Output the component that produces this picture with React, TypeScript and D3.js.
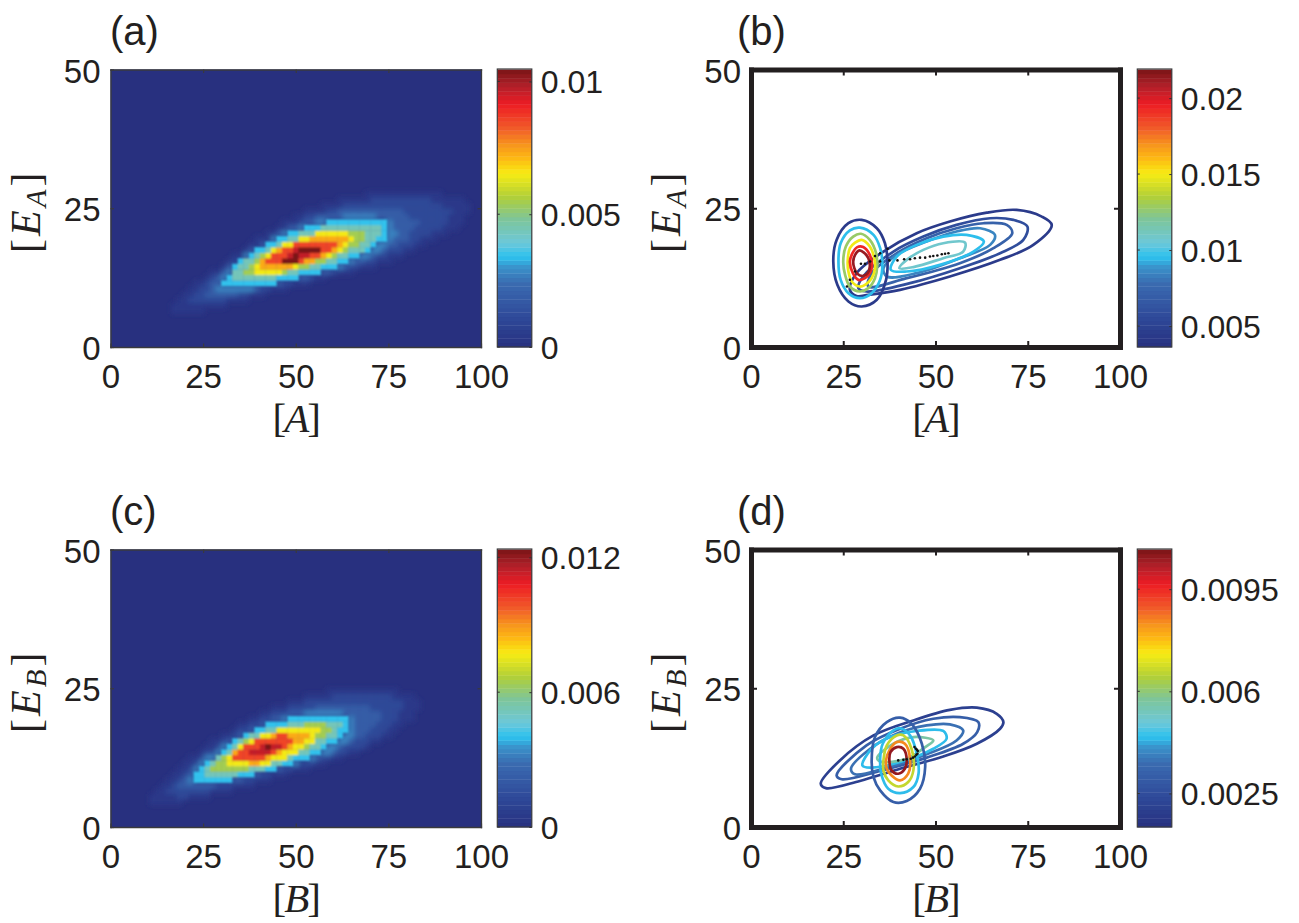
import React, { useEffect, useRef } from 'react';
import * as d3 from 'd3';

type Pt = [number, number];

const axisTicksX = [0, 25, 50, 75, 100];
const axisTicksY = [0, 25, 50];

// colour ramp, bottom to top
const rampStops = [0, 0.11, 0.23, 0.29, 0.325, 0.375, 0.46, 0.54, 0.625, 0.68, 0.73, 0.79, 0.875, 0.94, 1];
const rampColors = ['#28307f', '#2f4a9a', '#3a6bb0', '#3a95cc', '#2cc2ef', '#6cc8da', '#7dc59b', '#b0cf3a',
    '#f7ec13', '#fdb913', '#f7941d', '#f15a29', '#ed1c24', '#b2202a', '#7a1416'];
const ramp = d3.scaleLinear<string>().domain(rampStops).range(rampColors).clamp(true);

// share of the colour range enclosed by each outline of the density maps
const heatLevels = [0.04, 0.1, 0.18, 0.27, 0.33, 0.42, 0.52, 0.62, 0.7, 0.82, 0.92, 1];
// the first outlines are the soft fringe round the cyan body
const FRINGE = 4;

const heatA: Pt[][] = [
    [[16.4,7.5],[17.3,6],[24.1,6.3],[34.9,8.1],[47.5,10.5],[60.1,12.7],[73.6,14.8],[85.3,18.4],[94.3,21.7],[97.9,25.3],[95.2,26.8],[83.5,28.3],[73.6,28.3],[61.9,26.5],[51.1,24.1],[40.3,19.9],[30.4,15.1],[21.4,10.8]],
    [[20,8.4],[26.8,7.8],[39.4,9.9],[54.7,12.3],[69.1,14.8],[80.8,18.1],[89.8,21.7],[92.5,24.7],[86.2,26.5],[75.4,27.1],[63.7,25.6],[52.9,23.5],[42.1,19.3],[31.3,14.5],[24.1,10.8]],
    [[24.1,8.7],[33.1,9.3],[43.9,11.1],[58.3,13.3],[70.9,16],[79.9,19.3],[83.5,22.3],[78.1,25],[69.1,25.3],[58.3,24.1],[47.5,21.4],[37.6,17.5],[28.6,12.7]],
    [[28.6,10.2],[37.6,10.2],[47.5,12],[60.1,13.9],[71.8,16.9],[77.2,20.5],[76.3,22.9],[68.2,23.8],[58.3,23.2],[47.5,20.8],[38.5,17.5],[31.3,13.9]],
    [[30.4,12],[30.5,10.7],[37.6,10.7],[45.7,11.7],[55.6,13.3],[61.9,14.8],[69.1,16.9],[74.5,19.6],[75.4,22],[73.6,22.9],[67.3,23],[58.3,22.6],[50.2,21.1],[42.1,18.7],[34.9,15.7]],
    [[32.6,12],[34.9,11.7],[43.9,12.3],[54.7,14.2],[61.9,15.7],[68.2,17.5],[72.3,19.9],[73.2,22],[68.2,22.3],[58.3,21.8],[51.1,20.5],[43,18.1],[36.7,15.7],[33.1,13.3]],
    [[35.8,12.7],[42.1,12.8],[51.1,13.9],[60.1,16],[66.4,18.1],[69.5,20.2],[68.2,21.2],[60.1,21.4],[52.9,20.2],[44.8,18.1],[38.5,15.7]],
    [[38,13.3],[44.8,13.1],[52.9,14.8],[60.1,16.6],[64.6,18.4],[65.5,20.2],[62.8,20.8],[55.6,20.5],[47.5,18.7],[41.2,16.6]],
    [[39.8,13.9],[48.4,14.2],[55.6,15.7],[61.9,17.8],[64.1,19.6],[60.1,20],[53.8,19.6],[45.7,17.8],[41.2,15.7]],
    [[41.6,14.5],[50.2,14.8],[56.5,16.4],[61,18.4],[61.4,19.3],[54.7,19.3],[47.5,18.1],[43,16.3]],
    [[45.7,15.7],[52.9,16],[57.4,17.5],[56.9,17.8],[50.2,17.8],[46.6,16.3]],
    [[46.1,15.5],[50.2,15.4],[51.5,16.6],[56.9,16.9],[56.5,17.5],[50.6,17.6],[48.8,16.3]],
];

const heatC: Pt[][] = [
    [[10.1,4.8],[10.5,3.6],[17.7,4.2],[28.6,5.7],[40.3,7.8],[54.7,10.8],[67.3,13.3],[76.3,16.6],[82.6,20.2],[83.5,22.9],[76.3,25],[65.5,25.3],[54.7,24.1],[43.9,21.7],[34.9,18.7],[25.9,14.8],[16.8,10.2]],
    [[13.7,6],[19.5,5.4],[30.4,6.9],[42.1,9.3],[56.5,11.7],[68.2,14.5],[76.3,18.1],[79.9,22.3],[74.5,24.1],[64.6,24.1],[53.8,22.9],[43,20.5],[33.1,16.9],[24.1,12.7]],
    [[16.4,6.9],[25,6.9],[34.9,8.4],[47.5,10.8],[60.1,13.3],[69.1,16.6],[73.6,19.9],[69.1,22.3],[60.1,22],[50.2,21.1],[39.4,18.4],[29.5,14.5],[21.4,10.2]],
    [[19.5,7.8],[26.8,7.5],[36.7,9],[48.4,11.1],[60.1,13.6],[65,16.3],[66.4,19.3],[61.9,20.8],[52.9,20.5],[43,19],[33.1,15.7],[25,12]],
    [[22.5,9.3],[22.7,7.5],[29.5,8.1],[36.7,9],[45.7,10.8],[54.7,12.7],[61,15.4],[64.6,17.5],[64.6,19.6],[61.4,20],[52.9,19.9],[46.1,19.3],[39.4,17.8],[33.1,15.4],[26.8,12]],
    [[24.5,9.6],[27.7,8.7],[35.8,9.6],[44.8,11.1],[53.8,13.6],[60.1,16],[63,18.7],[59.2,19.3],[51.1,19],[42.1,17.8],[34.9,15.7],[28.6,12.3]],
    [[27.2,10.2],[33.1,9.9],[42.1,11.1],[52,13.9],[58.3,16.6],[60.1,18.4],[56.5,18.7],[50.2,18.4],[43,17.3],[35.8,15.4],[29.9,12.3]],
    [[30.4,10.8],[38.5,10.5],[46.6,12.3],[53.8,14.8],[56.9,17.5],[53.8,17.8],[45.7,17.6],[38.5,16],[32.2,13.3]],
    [[31.7,11.7],[39.4,11.4],[48.4,13.9],[53.3,16],[53.8,17.2],[47.5,17.2],[39.4,16],[33.5,13.6]],
    [[33.3,12.3],[40.3,12.3],[46.6,13.9],[50.2,16.3],[45.7,16.6],[39.4,15.7],[34.9,13.9]],
    [[36.7,13],[41.2,13],[45.7,14.5],[43.9,15.1],[39.4,14.3]],
    [[39.4,13.7],[42.1,13.6],[44.8,14.3],[43,14.6],[40.3,14.3]],
];

// contour levels and outlines of panel (b)
const levelsB = [0.0045, 0.0058, 0.0072, 0.0085, 0.0095, 0.0108, 0.0045, 0.0095, 0.0128, 0.0149, 0.0193, 0.0213];
const contoursB: Pt[][] = [
    [[31.8,9.4],[40.4,10.3],[53.9,12.7],[67.5,15.7],[76.5,18.4],[81.5,22],[78.8,23.5],[72,24.7],[63.9,24.2],[53.9,22.6],[44.9,20.5],[35.9,17.2],[28.6,13.3],[26.8,10.3],[28.6,9.2]],
    [[31.3,10],[43.1,11.5],[56.6,14.2],[67.5,16.9],[73.8,19.3],[74.9,21.7],[71.1,22.9],[64.8,23.2],[55.7,22],[46.7,19.9],[38.6,17.2],[30.4,12.7],[29.1,10.6]],
    [[31.8,10.9],[42.2,12.4],[56.6,15.1],[65.7,17.8],[70.8,20.5],[69.3,22],[63,22.3],[55.7,21.4],[47.6,19.6],[39.5,16.9],[32.7,13.3]],
    [[36.8,12.7],[44.9,13.3],[56.6,16],[64.8,18.4],[66.1,20.2],[62.1,21.4],[55.7,20.8],[47.6,19],[39.5,16.6],[35.9,14.2]],
    [[37.9,13.9],[42.2,13.6],[51.2,14.8],[60.3,17.2],[63.1,19],[58.4,20.2],[52.1,19.9],[44.9,18.4],[39.5,16.3]],
    [[40.2,14.2],[44,14.4],[52.1,16],[57.5,17.2],[58,18.8],[52.1,18.7],[46.7,17.5],[42.2,15.7]],
    [[22.3,15.4],[23.2,19.3],[26.4,22.3],[30,22.9],[34.1,21.4],[36.3,18.7],[37,15.4],[36.6,12.1],[34.1,8.5],[30,7.3],[26.4,8.2],[23.4,11.2]],
    [[23.7,15.4],[24.3,18.7],[26.8,21],[29.5,21.5],[33.2,20.2],[35,17.8],[35.6,14.8],[35,12.1],[32.7,9.7],[29.5,8.8],[26.4,9.7],[24.3,12.1]],
    [[25,15.4],[25.7,18.1],[27.7,19.9],[29.8,20.4],[32.2,19.3],[33.9,16.9],[34.2,14.5],[33.6,12.4],[31.8,10.6],[29.5,10],[26.8,10.9],[25.5,13]],
    [[26.2,15.4],[26.8,17.8],[28.2,18.8],[30,19.3],[32.2,18.1],[33.3,16.3],[33.6,14.2],[32.7,12.4],[30.9,11.2],[29.4,10.9],[27.3,11.8],[26.4,13.6]],
    [[26.8,15.4],[27.5,16.9],[28.8,18],[30.4,18],[32.2,16.6],[32.8,14.8],[32.2,13.3],[30.9,12.4],[29.1,12.1],[27.6,13.3]],
    [[27.7,15.4],[28.2,16.6],[29.4,17.4],[30.6,17],[31.8,16],[32.2,14.5],[31.6,13.3],[30.4,12.8],[28.8,13.2],[28,14.2]],
];
const pathB: Pt[] = [[26,10.9],[26.8,12.1],[28.2,13.6],[29.8,15],[30.9,15],[32.3,15.4],[33.6,16.4],[35,16.9],[37,17.7],[35,15.4],[37.5,15.6],[39.7,15.6],[41.5,15.8],[43.1,15.8],[44.4,16],[45.8,16.1],[47.2,16.1],[48.5,16.3],[49.4,16.4],[50.5,16.5],[51.7,16.7],[52.6,16.8],[53.5,16.9]];

// contour levels and outlines of panel (d)
const levelsD = [0.002, 0.0031, 0.0036, 0.0044, 0.0056, 0.0031, 0.0044, 0.0067, 0.0084, 0.0106];
const contoursD: Pt[][] = [
    [[18.9,7.8],[20.3,7],[29.5,8.3],[40.4,10.5],[52.1,12.7],[61.2,15],[67.5,17.7],[68.4,18.9],[66.6,20.4],[61.2,21.5],[53.9,21.1],[44,19.2],[33.2,16.5],[24.1,12]],
    [[23.2,9.3],[24.6,8.6],[35,10.1],[47.6,12.5],[57.5,15],[61.3,17.1],[61.6,18.9],[56.6,19.8],[49.4,19.5],[40.4,17.7],[31.3,14.7]],
    [[27.1,10.5],[28.2,9.5],[36.8,10.7],[47.6,13.1],[55.7,15.6],[57.5,17.4],[53.9,18.5],[47.6,18.3],[39.5,16.8],[32.3,14.1]],
    [[30.2,11.1],[32.3,10.7],[40.4,11.7],[49.4,14.1],[53,15.9],[52.1,17.3],[44.9,17.3],[37.7,16.2],[32.7,14.1]],
    [[34.2,12.5],[35,11.8],[42.2,12.3],[47.2,14.4],[49.4,15.6],[44,16.2],[38.6,15]],
    [[32.7,12],[33.6,16.2],[36.8,18.9],[40.4,19.7],[43.5,18.6],[46.3,15],[47.2,10.8],[45.8,6.9],[42.2,4.7],[38.6,4.5],[35,6.6],[33.2,9]],
    [[35,12.3],[35.7,15],[38.6,17.4],[40.4,17.8],[43.1,16.5],[44.9,13.2],[45.4,9.6],[44,7.2],[40.4,6.1],[37.2,6.9],[35.4,9.3]],
    [[35.9,12],[36.8,14.7],[39.5,16.5],[41.3,16.5],[43.5,14.1],[44,10.2],[42.6,8.1],[39.9,7.3],[37.2,8.4],[35.9,10.2]],
    [[36.6,12],[37.5,13.8],[39.5,15.3],[41.7,15],[43.1,12.3],[42.6,9.6],[40.4,8.4],[38.1,9.3],[36.8,10.5]],
    [[37.5,12],[37.8,13.5],[39.5,14.4],[41.3,14.1],[42.2,12],[41.7,10.5],[39.9,9.6],[38.1,10.2]],
];
const pathD: Pt[] = [[39.9,12],[41.3,12.1],[42.2,12.2],[43.3,12.3],[43.9,12.5],[44.4,12.7],[44.8,13],[45.1,13.2],[45.2,13.7],[45,13.9],[44.7,14.1],[44.3,14.4]];

// colour bar limits and tick labels
const barDomainA: Pt = [0, 0.01045];
const barTicksA = [0, 0.005, 0.01];
const barDomainB: Pt = [0.00362, 0.02188];
const barTicksB = [0.005, 0.01, 0.015, 0.02];
const barDomainC: Pt = [0, 0.01235];
const barTicksC = [0, 0.006, 0.012];
const barDomainD: Pt = [0.00135, 0.01086];
const barTicksD = [0.0025, 0.006, 0.0095];

const INK = '#231f20';
const NX = 67;
const NY = 50;
const BAR_STEPS = 64;

function drawPanel(root, p) {
    const g = root.append('g');
    const x = d3.scaleLinear().domain([0, 100]).range([p.left, p.right]);
    const y = d3.scaleLinear().domain([0, 50]).range([p.bottom, p.top]);

    if (p.heat) {
        const clipId = 'clip-' + p.name;
        g.append('clipPath').attr('id', clipId).append('rect')
            .attr('x', p.left).attr('y', p.top)
            .attr('width', p.right - p.left).attr('height', p.bottom - p.top);
        g.append('rect')
            .attr('x', p.left).attr('y', p.top)
            .attr('width', p.right - p.left).attr('height', p.bottom - p.top)
            .attr('fill', ramp(0));

        const cols = d3.scaleBand<number>().domain(d3.range(NX)).range([p.left, p.right]);
        const rows = d3.scaleBand<number>().domain(d3.range(NY)).range([p.bottom, p.top]);
        const cells: any[] = [];
        d3.range(NX).forEach((i) => d3.range(NY).forEach((j) => {
            const pos: Pt = [(i + 0.5) * 100 / NX, j + 0.5];
            for (let k = p.heat.length - 1; k >= 0; k--) {
                if (d3.polygonContains(p.heat[k], pos)) {
                    cells.push({ i, j, k, v: heatLevels[k] });
                    break;
                }
            }
        }));
        const clipped = g.append('g').attr('clip-path', `url(#${clipId})`);
        const drawCells = (filter, data) => clipped.append('g').attr('filter', filter)
            .selectAll('rect').data(data).enter().append('rect')
            .attr('x', (d) => cols(d.i))
            .attr('y', (d) => rows(d.j))
            .attr('width', cols.bandwidth() + 0.3)
            .attr('height', rows.bandwidth() + 0.3)
            .attr('fill', (d) => ramp(d.v));
        drawCells('url(#softer)', cells.filter((d) => d.k < FRINGE));
        drawCells('url(#soft)', cells.filter((d) => d.k >= FRINGE));
    }

    if (p.contours) {
        const t = d3.scaleLinear().domain(p.barDomain).range([0, 1]);
        const line = d3.line<Pt>().x((d) => x(d[0])).y((d) => y(d[1])).curve(d3.curveCatmullRomClosed);
        g.append('g').selectAll('path').data(p.contours).enter().append('path')
            .attr('d', (d: any) => line(d))
            .attr('fill', 'none')
            .attr('stroke', (_, i) => ramp(t(p.levels[i])))
            .attr('stroke-width', 2.7);
        g.append('g').selectAll('circle').data(p.path).enter().append('circle')
            .attr('cx', (d: any) => x(d[0]))
            .attr('cy', (d: any) => y(d[1]))
            .attr('r', 1.3)
            .attr('fill', '#111');
    }

    // axes on all four sides, ticks pointing inward
    const frameWidth = p.heat ? 1.3 : 5;
    const frameColor = p.heat ? '#3a3a3c' : INK;
    const tickLen = p.heat ? 3.5 : 6;
    const bottom = g.append('g').attr('transform', `translate(0,${p.bottom})`)
        .call(d3.axisBottom(x).tickValues(axisTicksX).tickSize(-tickLen).tickSizeOuter(0).tickFormat(d3.format('d')));
    const left = g.append('g').attr('transform', `translate(${p.left},0)`)
        .call(d3.axisLeft(y).tickValues(axisTicksY).tickSize(-tickLen).tickSizeOuter(0).tickFormat(d3.format('d')));
    const top = g.append('g').attr('transform', `translate(0,${p.top})`)
        .call(d3.axisTop(x).tickValues(axisTicksX.slice(1, -1)).tickSize(-tickLen).tickSizeOuter(0).tickFormat(() => ''));
    const right = g.append('g').attr('transform', `translate(${p.right},0)`)
        .call(d3.axisRight(y).tickValues([25]).tickSize(-tickLen).tickSizeOuter(0).tickFormat(() => ''));

    [bottom, left, top, right].forEach((a) => {
        a.attr('font-family', null).attr('font-size', null);
        a.select('.domain').attr('stroke', frameColor).attr('stroke-width', frameWidth)
            .attr('stroke-linecap', 'square');
        a.selectAll('.tick line').attr('stroke', frameColor).attr('stroke-width', p.heat ? 1.2 : 2);
    });
    bottom.selectAll('.tick text').attr('y', 41).attr('dy', 0).attr('fill', INK)
        .style('font', '33px "Liberation Sans"');
    left.selectAll('.tick text').attr('x', -10).attr('dy', 12.5).attr('fill', INK)
        .style('font', '33px "Liberation Sans"');
    top.selectAll('.tick text').remove();
    right.selectAll('.tick text').remove();

    // colour bar, 64 flat steps like the original colormap
    const barScale = d3.scaleLinear().domain(p.barDomain).range([p.bottom, p.top]);
    const steps = d3.scaleBand<number>().domain(d3.range(BAR_STEPS)).range([p.bottom, p.top]);
    g.append('g').selectAll('rect').data(d3.range(BAR_STEPS)).enter().append('rect')
        .attr('x', p.barX).attr('width', 34.5)
        .attr('y', (d) => steps(d))
        .attr('height', steps.bandwidth() + 0.4)
        .attr('fill', (d) => ramp((d + 0.5) / BAR_STEPS));
    g.append('rect').attr('x', p.barX).attr('y', p.top - 0.5).attr('width', 34.5).attr('height', p.bottom - p.top + 0.5)
        .attr('fill', 'none').attr('stroke', '#3a3a3c').attr('stroke-width', 1.2);
    const barAxis = g.append('g').attr('transform', `translate(${p.barX + 34.5},0)`)
        .call(d3.axisRight(barScale).tickValues(p.barTicks).tickSize(-2.5).tickSizeOuter(0).tickFormat((d) => String(d)));
    barAxis.attr('font-family', null).attr('font-size', null);
    barAxis.select('.domain').remove();
    barAxis.selectAll('.tick line').attr('stroke', '#333').attr('stroke-width', 1);
    barAxis.selectAll('.tick text').attr('x', 9).attr('dy', 11.5).attr('fill', INK)
        .style('font', '32px "Liberation Sans"');
    g.append('g').selectAll('line').data(p.barTicks).enter().append('line')
        .attr('x1', p.barX).attr('x2', p.barX + 2.5)
        .attr('y1', (d: any) => barScale(d)).attr('y2', (d: any) => barScale(d))
        .attr('stroke', '#333').attr('stroke-width', 1);

    // panel letter
    g.append('text').attr('x', p.left - (p.heat ? 0.5 : 14)).attr('y', p.top - 24.5)
        .attr('fill', INK).style('font', '40px "Liberation Sans"').text(`(${p.name})`);

    // axis names in math italic
    const serif = '"Liberation Serif"';
    const xLabel = g.append('text')
        .attr('x', (p.left + p.right) / 2).attr('y', p.bottom + 85)
        .attr('text-anchor', 'middle').attr('fill', INK)
        .style('font', `41px ${serif}`).style('letter-spacing', '-2px');
    xLabel.append('tspan').text('[');
    xLabel.append('tspan').attr('font-style', 'italic').text(p.species);
    xLabel.append('tspan').text(']');

    const yLabel = g.append('text')
        .attr('transform', `translate(${p.left - 71},${(p.top + p.bottom) / 2 + 3}) rotate(-90)`)
        .attr('text-anchor', 'middle').attr('fill', INK)
        .style('font', `42px ${serif}`).style('letter-spacing', '3px');
    yLabel.append('tspan').text('[');
    yLabel.append('tspan').attr('font-style', 'italic').text('E');
    yLabel.append('tspan').attr('font-style', 'italic').attr('dy', 6).attr('font-size', 29).text(p.species);
    yLabel.append('tspan').attr('dy', -6).text(']');
}

const panels = [
    { name: 'a', species: 'A', left: 110.5, right: 481, top: 69.5, bottom: 347, barX: 497.3, heat: heatA, barDomain: barDomainA, barTicks: barTicksA },
    { name: 'b', species: 'A', left: 751, right: 1120, top: 69.5, bottom: 347, barX: 1137.3, contours: contoursB, levels: levelsB, path: pathB, barDomain: barDomainB, barTicks: barTicksB },
    { name: 'c', species: 'B', left: 110.5, right: 481, top: 549.5, bottom: 827, barX: 497.3, heat: heatC, barDomain: barDomainC, barTicks: barTicksC },
    { name: 'd', species: 'B', left: 751, right: 1120, top: 549.5, bottom: 827, barX: 1137.3, contours: contoursD, levels: levelsD, path: pathD, barDomain: barDomainD, barTicks: barTicksD },
];

export default function App() {
    const svgRef = useRef<SVGSVGElement>(null);

    useEffect(() => {
        const root = d3.select(svgRef.current);
        root.selectAll('*').remove();
        const defs = root.append('defs');
        [['soft', 0.95], ['softer', 2.6]].forEach(([id, sd]) => {
            defs.append('filter').attr('id', id)
                .attr('filterUnits', 'userSpaceOnUse')
                .attr('x', 0).attr('y', 0).attr('width', 1299).attr('height', 923)
                .append('feGaussianBlur').attr('stdDeviation', sd);
        });
        panels.forEach((p) => drawPanel(root, p));
    }, []);

    return (
        <svg ref={svgRef} width={1299} height={923}
            style={{ position: 'absolute', left: 0, top: 0, background: '#fff' }} />
    );
}
